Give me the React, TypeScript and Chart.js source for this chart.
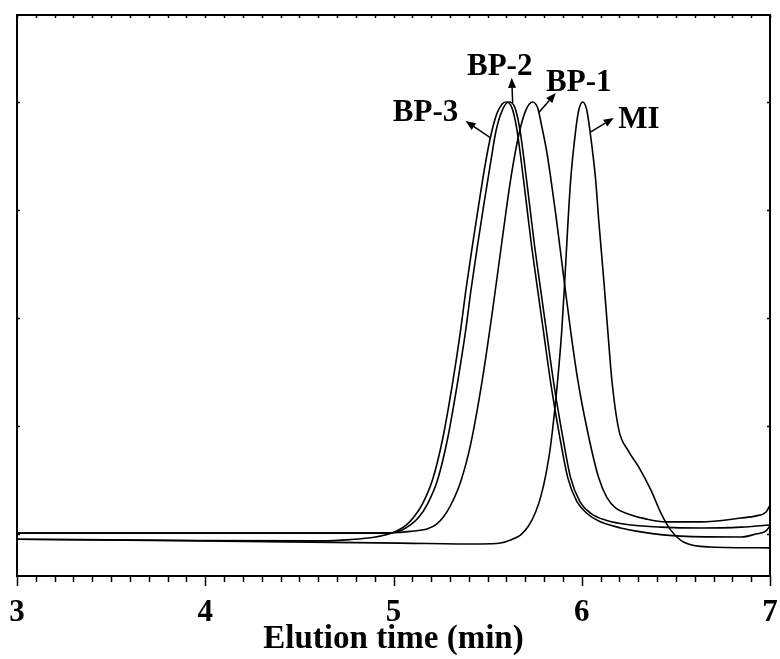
import { useEffect, useRef } from 'react';
import { Chart, registerables } from 'chart.js';

Chart.register(...registerables);

const FONT = '"Liberation Serif", "Times New Roman", Times, serif';

// ---- Data (elution time in min, normalized detector signal) ----
const bp3Time = [3.0, 3.973, 4.612, 4.771, 4.904, 4.984, 5.021, 5.069, 5.106, 5.154, 5.207, 5.261, 5.314, 5.356, 5.383, 5.42, 5.452, 5.489, 5.521, 5.553, 5.596, 5.628, 5.654, 5.691, 5.713, 5.734, 5.761, 5.798, 5.835, 5.883, 5.926, 5.973, 6.027, 6.09, 6.207, 6.314, 6.527, 6.846, 6.926, 6.979, 7.0];
const bp3Signal = [-0.012, -0.015, -0.016, -0.013, -0.007, 0.001, 0.008, 0.021, 0.038, 0.07, 0.125, 0.22, 0.35, 0.47, 0.56, 0.67, 0.76, 0.86, 0.93, 0.977, 1.0, 0.988, 0.94, 0.819, 0.74, 0.665, 0.58, 0.465, 0.35, 0.225, 0.13, 0.076, 0.048, 0.03, 0.014, 0.005, -0.005, -0.007, 0.0, 0.007, 0.019];

const bp2Time = [3.0, 4.505, 4.957, 5.011, 5.048, 5.09, 5.133, 5.181, 5.234, 5.287, 5.34, 5.383, 5.41, 5.447, 5.479, 5.516, 5.543, 5.574, 5.612, 5.644, 5.67, 5.707, 5.729, 5.75, 5.777, 5.814, 5.851, 5.899, 5.941, 5.989, 6.048, 6.128, 6.261, 6.42, 6.633, 6.846, 7.0];
const bp2Signal = [0.002, 0.002, 0.002, 0.004, 0.01, 0.021, 0.038, 0.07, 0.125, 0.22, 0.35, 0.47, 0.56, 0.67, 0.76, 0.86, 0.93, 0.977, 1.0, 0.988, 0.94, 0.819, 0.74, 0.665, 0.58, 0.465, 0.35, 0.225, 0.13, 0.076, 0.048, 0.032, 0.021, 0.016, 0.014, 0.016, 0.021];

const bp1Time = [3.0, 4.505, 4.984, 5.09, 5.181, 5.229, 5.266, 5.303, 5.356, 5.41, 5.473, 5.527, 5.58, 5.622, 5.665, 5.702, 5.739, 5.766, 5.787, 5.814, 5.835, 5.862, 5.904, 5.941, 5.979, 6.032, 6.09, 6.133, 6.181, 6.25, 6.34, 6.447, 6.633, 6.846, 6.926, 6.979, 7.0];
const bp1Signal = [0.002, 0.002, 0.003, 0.006, 0.012, 0.023, 0.04, 0.066, 0.12, 0.208, 0.36, 0.52, 0.69, 0.82, 0.923, 0.98, 1.0, 0.986, 0.945, 0.885, 0.825, 0.74, 0.595, 0.47, 0.356, 0.235, 0.13, 0.085, 0.06, 0.046, 0.035, 0.028, 0.028, 0.037, 0.042, 0.051, 0.067];

const miTime = [3.0, 3.973, 5.037, 5.463, 5.569, 5.622, 5.676, 5.718, 5.755, 5.782, 5.809, 5.835, 5.872, 5.894, 5.91, 5.926, 5.941, 5.968, 5.984, 6.005, 6.027, 6.043, 6.074, 6.09, 6.117, 6.138, 6.16, 6.197, 6.245, 6.303, 6.367, 6.42, 6.473, 6.543, 6.686, 7.0];
const miSignal = [-0.012, -0.016, -0.021, -0.023, -0.021, -0.014, -0.002, 0.019, 0.051, 0.086, 0.137, 0.206, 0.356, 0.472, 0.588, 0.715, 0.819, 0.935, 0.981, 1.0, 0.981, 0.935, 0.819, 0.727, 0.588, 0.472, 0.356, 0.241, 0.194, 0.155, 0.102, 0.049, 0.009, -0.019, -0.03, -0.032];

const xTicks = [3, 4, 5, 6, 7];
const yTicks = [0, 0.25, 0.5, 0.75, 1.0];

// Annotations (data coordinates)
const labelTexts = ['BP-3', 'BP-2', 'BP-1', 'MI'];
const labelX = [5.17, 5.564, 5.984, 6.303];
const labelY = [0.975, 1.082, 1.044, 0.958];
const arrowFromX = [5.516, 5.633, 5.771, 6.048];
const arrowFromY = [0.917, 0.998, 0.975, 0.931];
const arrowToX = [5.383, 5.628, 5.862, 6.17];
const arrowToY = [0.956, 1.056, 1.021, 0.963];

const X_MIN = 3;
const X_MAX = 7;
const Y_MIN = -0.0972;
const Y_MAX = 1.2014;

const toPoints = (xs: number[], ys: number[]) => xs.map((x, i) => ({ x, y: ys[i] }));

const framePlugin = {
  id: 'frameAndNotes',
  afterDraw(chart: any) {
    const ctx = chart.ctx as CanvasRenderingContext2D;
    const { left, right, top, bottom } = chart.chartArea;
    const xs = chart.scales.x;
    const ys = chart.scales.y;
    ctx.save();
    ctx.strokeStyle = '#000';
    ctx.fillStyle = '#000';
    // frame
    ctx.lineWidth = 2;
    ctx.strokeRect(left, top, right - left, bottom - top);
    // x ticks
    ctx.lineWidth = 1.5;
    const n = Math.round((X_MAX - X_MIN) * 10);
    for (let i = 0; i <= n; i++) {
      const v = X_MIN + i / 10;
      const px = Math.round(xs.getPixelForValue(v)) + 0.5;
      const major = xTicks.some((t) => Math.abs(t - v) < 1e-6);
      ctx.beginPath();
      ctx.moveTo(px, bottom);
      ctx.lineTo(px, bottom + (major ? 10 : 6));
      ctx.moveTo(px, top);
      ctx.lineTo(px, top + 3);
      ctx.stroke();
    }
    // y ticks (inward)
    for (const t of yTicks) {
      const py = Math.round(ys.getPixelForValue(t)) + 0.5;
      ctx.beginPath();
      ctx.moveTo(left, py);
      ctx.lineTo(left + 3, py);
      ctx.moveTo(right, py);
      ctx.lineTo(right - 3, py);
      ctx.stroke();
    }
    // annotations
    ctx.font = `bold 31px ${FONT}`;
    ctx.textAlign = 'center';
    ctx.textBaseline = 'middle';
    labelTexts.forEach((txt, i) => {
      ctx.fillText(txt, xs.getPixelForValue(labelX[i]), ys.getPixelForValue(labelY[i]));
      const x0 = xs.getPixelForValue(arrowFromX[i]);
      const y0 = ys.getPixelForValue(arrowFromY[i]);
      const x1 = xs.getPixelForValue(arrowToX[i]);
      const y1 = ys.getPixelForValue(arrowToY[i]);
      const ang = Math.atan2(y1 - y0, x1 - x0);
      const L = 10;
      const W = 4;
      const bx = x1 - L * Math.cos(ang);
      const by = y1 - L * Math.sin(ang);
      ctx.lineWidth = 1.5;
      ctx.beginPath();
      ctx.moveTo(x0, y0);
      ctx.lineTo(bx, by);
      ctx.stroke();
      ctx.beginPath();
      ctx.moveTo(x1, y1);
      ctx.lineTo(bx + W * Math.sin(ang), by - W * Math.cos(ang));
      ctx.lineTo(bx - W * Math.sin(ang), by + W * Math.cos(ang));
      ctx.closePath();
      ctx.fill();
    });
    ctx.restore();
  },
};

export default function App() {
  const ref = useRef<HTMLCanvasElement | null>(null);

  useEffect(() => {
    if (!ref.current) return;
    const lineStyle = {
      borderColor: '#000',
      borderWidth: 1.6,
      pointRadius: 0,
      fill: false,
      cubicInterpolationMode: 'monotone' as const,
    };
    const chart = new Chart(ref.current, {
      type: 'line',
      data: {
        datasets: [
          { label: 'BP-3', data: toPoints(bp3Time, bp3Signal), ...lineStyle },
          { label: 'BP-2', data: toPoints(bp2Time, bp2Signal), ...lineStyle },
          { label: 'BP-1', data: toPoints(bp1Time, bp1Signal), ...lineStyle },
          { label: 'MI', data: toPoints(miTime, miSignal), ...lineStyle },
        ],
      },
      options: {
        animation: false,
        responsive: false,
        devicePixelRatio: 1,
        layout: { padding: { left: 17, right: 10, top: 15, bottom: 0 } },
        plugins: { legend: { display: false }, tooltip: { enabled: false } },
        scales: {
          x: {
            type: 'linear',
            min: X_MIN,
            max: X_MAX,
            afterFit: (scale: any) => {
              scale.height = 83;
              scale.paddingLeft = 0;
              scale.paddingRight = 0;
              scale.paddingTop = 0;
              scale.paddingBottom = 0;
            },
            afterBuildTicks: (scale: any) => {
              scale.ticks = xTicks.map((v) => ({ value: v }));
            },
            grid: { display: false },
            border: { display: false },
            ticks: {
              color: '#000',
              padding: 10,
              maxRotation: 0,
              font: { family: FONT, size: 31, weight: 'bold' },
              callback: (v: any) => String(v),
            },
            title: {
              display: true,
              text: 'Elution time (min)',
              color: '#000',
              font: { family: FONT, size: 33, weight: 'bold', lineHeight: 1.2 },
              padding: { top: 0, bottom: 0 },
            },
          },
          y: {
            type: 'linear',
            min: Y_MIN,
            max: Y_MAX,
            display: false,
          },
        },
      },
      plugins: [framePlugin],
    });
    return () => chart.destroy();
  }, []);

  return (
    <div style={{ position: 'absolute', left: 0, top: 0, width: 780, height: 659 }}>
      <canvas ref={ref} width={780} height={659} style={{ display: 'block' }} />
    </div>
  );
}
